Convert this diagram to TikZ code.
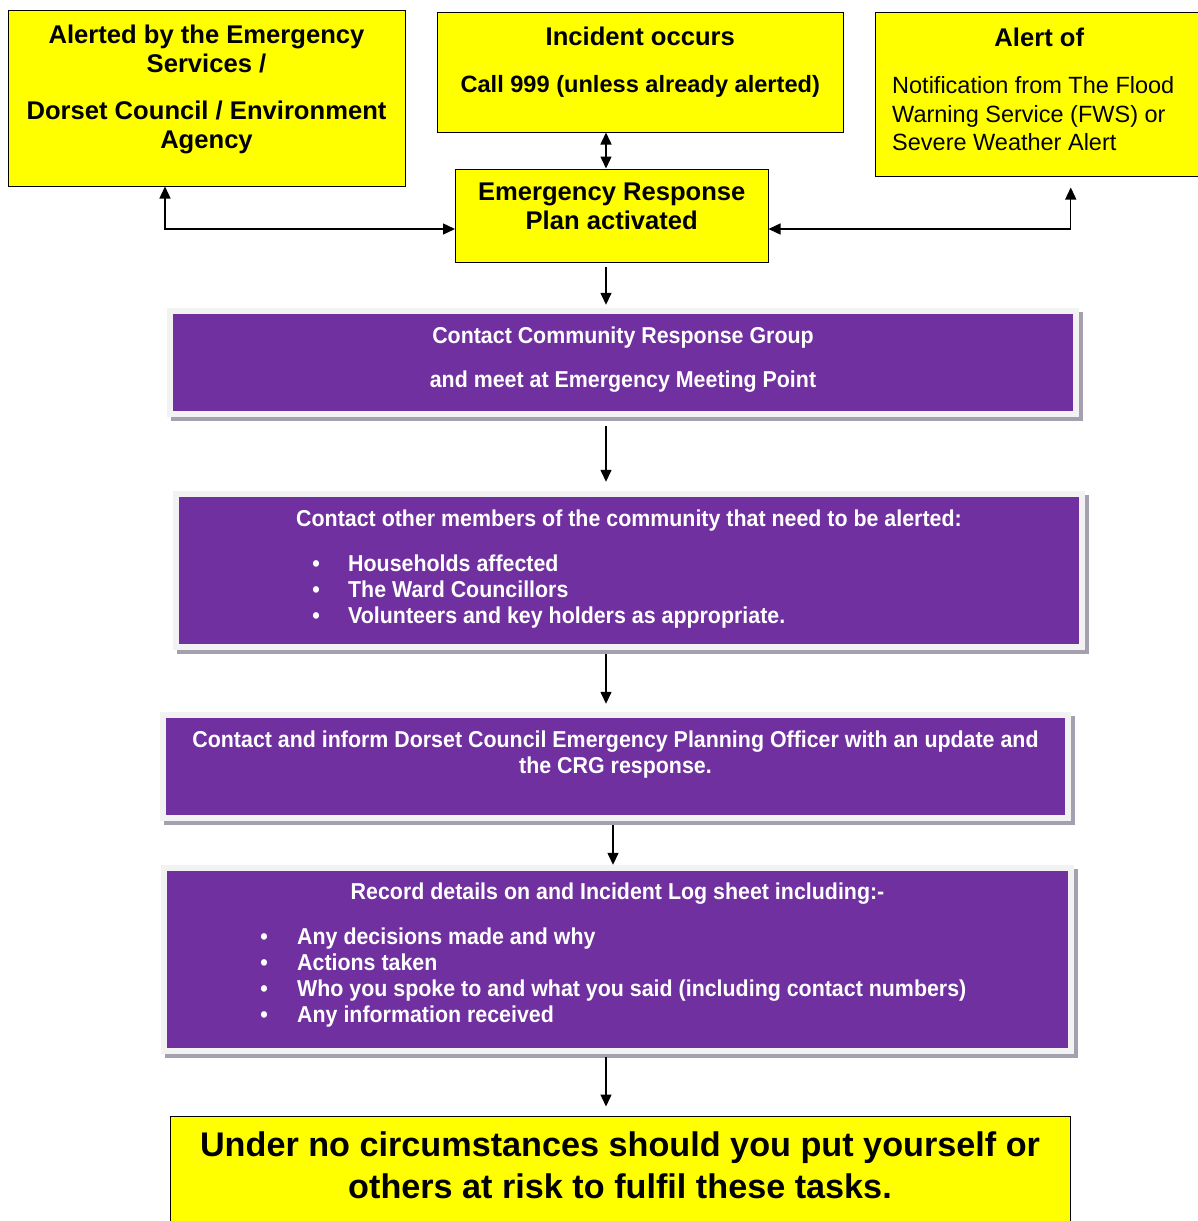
\documentclass[tikz,border=0pt]{standalone}
\usepackage{fontspec}
\setmainfont{Liberation Sans}
\newfontfamily\crgfont{Liberation Sans}[FakeStretch=0.93]
\usetikzlibrary{arrows.meta,positioning,shadows}
\definecolor{alertyellow}{HTML}{FFFF00}
\definecolor{crgpurple}{HTML}{7030A0}
\definecolor{framegray}{HTML}{F2F2F2}
\definecolor{shadegray}{HTML}{A5A0AF}

\begin{document}
\begin{tikzpicture}[x=1pt,y=-1pt,
  >={Triangle[length=12pt,width=11pt]},
  ybox/.style={draw=black,line width=1pt,fill=alertyellow,inner sep=0pt},
  pbox/.style={fill=framegray,inner sep=0pt,
    drop shadow={shadow xshift=3.5pt,shadow yshift=-4pt,fill=shadegray,opacity=1},
    path picture={\fill[crgpurple] ([shift={(6pt,6pt)}]path picture bounding box.south west)
      rectangle ([shift={(-6pt,-6pt)}]path picture bounding box.north east);}},
  ytext/.style={inner sep=0pt,align=center,font=\bfseries\fontsize{25.6}{29}\selectfont},
  ptext/.style={inner sep=0pt,align=center,text=white,font=\crgfont\bfseries\fontsize{23}{26}\selectfont},
  plist/.style={ptext,align=left},
  link/.style={line width=1.4pt,->},
  twoway/.style={line width=1.4pt,<->}]
\path[use as bounding box,fill=white] (0,0) rectangle (1198,1221);
\coordinate (spine) at (606,0);
\coordinate (spineb) at (613,0);

\node[ybox,minimum width=397pt,minimum height=176pt] (alerted) at (206.5,98) {};
\node[ybox,minimum width=406.5pt,minimum height=120pt] (incident) at (640.25,72) {};
\node[ybox,minimum width=327.5pt,minimum height=163.5pt] (alertof) at (1039.25,94.25) {};
\node[ybox,minimum width=312.5pt,minimum height=93pt] (plan) at (611.75,215.5) {};

\node[ytext,below=15.5pt of alerted.north] (alertedtxt) {Alerted by the Emergency\\Services /\\[18pt]Dorset Council / Environment\\Agency};
\node[ytext,below=15.5pt of incident.north] (incidenttxt) {Incident occurs\\[18pt]{\fontsize{23.6}{29}\selectfont Call 999 (unless already alerted)}};
\node[ytext,below=15.5pt of alertof.north] (alertoftxt) {Alert of};
\node[inner sep=0pt,align=left,font=\fontsize{23.5}{28.5}\selectfont,anchor=north west] (fwstxt) at (892,76.3) {Notification from The Flood\\Warning Service (FWS) or\\Severe Weather Alert};
\node[ytext,below=14.5pt of plan.north] (plantxt) {Emergency Response\\Plan activated};

\node[pbox,minimum width=912pt,minimum height=109pt] (crg) at (623,362.5) {};
\node[ptext,below=18.5pt of crg.north] (crgtxt) {Contact Community Response Group\\[18pt]and meet at Emergency Meeting Point};

\node[pbox,minimum width=912pt,minimum height=159pt] (notify) at (629,570.5) {};
\node[ptext,below=18.5pt of notify.north] (notifytxt) {Contact other members of the community that need to be alerted:};
\node[plist,anchor=north west] (notifylist) at (316,554.5) {\makebox[0pt]{•}\hspace{32pt}Households affected\\
  \makebox[0pt]{•}\hspace{32pt}The Ward Councillors\\
  \makebox[0pt]{•}\hspace{32pt}Volunteers and key holders as appropriate.};

\node[pbox,minimum width=911pt,minimum height=109pt] (inform) at (615.5,766.5) {};
\node[ptext,below=18.5pt of inform.north] (informtxt) {Contact and inform Dorset Council Emergency Planning Officer with an update and\\the CRG response.};

\node[pbox,minimum width=913pt,minimum height=189pt] (record) at (617.5,959.5) {};
\node[ptext,below=17.5pt of record.north] (recordtxt) {Record details on and Incident Log sheet including:-};
\node[plist,anchor=north west] (recordlist) at (264,927.5) {\makebox[0pt]{•}\hspace{33pt}Any decisions made and why\\
  \makebox[0pt]{•}\hspace{33pt}Actions taken\\
  \makebox[0pt]{•}\hspace{33pt}Who you spoke to and what you said (including contact numbers)\\
  \makebox[0pt]{•}\hspace{33pt}Any information received};

\node[ybox,minimum width=900pt,minimum height=119pt] (warning) at (620,1175.5) {};
\node[inner sep=0pt,align=center,font=\bfseries\fontsize{34.2}{42}\selectfont,below=16.3pt of warning.north] (warningtxt) {Under no circumstances should you put yourself or\\others at risk to fulfil these tasks.};

\draw[twoway] ([xshift=-41.5pt]alerted.south) |- ([yshift=-13.5pt]plan.west);
\draw[twoway] ([xshift=31.5pt,yshift=-11pt]alertof.south) |- ([yshift=-13.5pt]plan.east);
\draw[twoway] (incident.south -| spine) -- (plan.north -| spine);
\draw[link,shorten <=4pt,shorten >=3pt] (plan.south -| spine) -- (crg.north -| spine);
\draw[link,shorten <=9pt,shorten >=9pt] (crg.south -| spine) -- (notify.north -| spine);
\draw[link,shorten <=4pt,shorten >=8pt] (notify.south -| spine) -- (inform.north -| spine);
\draw[link,shorten <=4pt] (inform.south -| spineb) -- (record.north -| spineb);
\draw[link,shorten <=3pt,shorten >=9pt] (record.south -| spine) -- (warning.north -| spine);
\end{tikzpicture}
\end{document}
